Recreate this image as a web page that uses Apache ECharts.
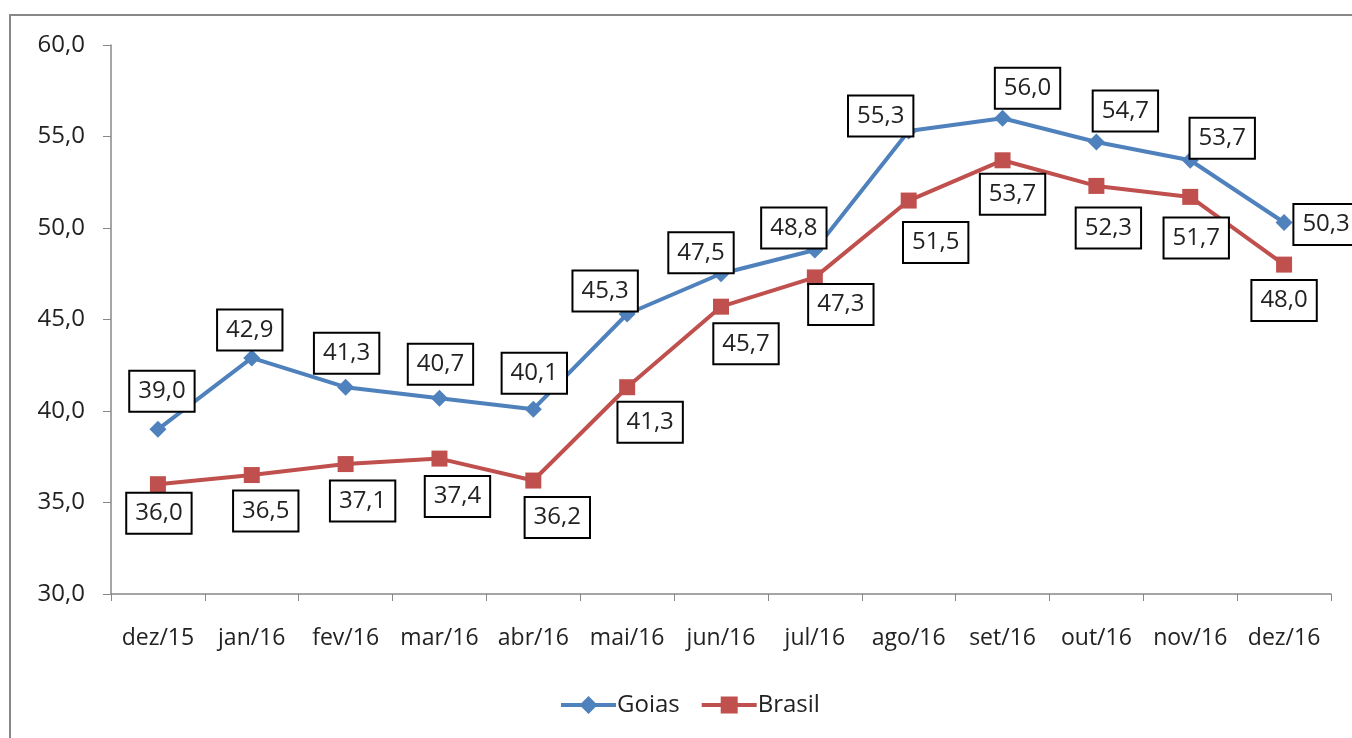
<!DOCTYPE html>
<html>
<head>
<meta charset="utf-8">
<script src="https://cdn.jsdelivr.net/npm/echarts@6/dist/echarts.min.js"></script>
<style>
html,body{margin:0;padding:0;background:#fff;overflow:hidden;}
#frame{position:absolute;left:9px;top:14px;width:1400px;height:800px;border:2px solid #888;box-sizing:border-box;}
#c{position:absolute;left:0;top:0;width:1352px;height:738px;}
</style>
</head>
<body>
<div id="frame"></div>
<div id="c"></div>
<script>
const categories = ['dez/15','jan/16','fev/16','mar/16','abr/16','mai/16','jun/16','jul/16','ago/16','set/16','out/16','nov/16','dez/16'];
const goias = [39.0,42.9,41.3,40.7,40.1,45.3,47.5,48.8,55.3,56.0,54.7,53.7,50.3];
const brasil = [36.0,36.5,37.1,37.4,36.2,41.3,45.7,47.3,51.5,53.7,52.3,51.7,48.0];
const yTicks = {min:30, max:60, interval:5};

// label placement (layout only)
const goiasLabelOffsets = [[4,-38],[-2,-28],[1,-34],[1,-34],[1,-36],[-22,-23],[-20,-21],[-21,-22],[-28,-15],[25,-30],[29,-31],[32,-22],[42,2]];
const brasilLabelOffsets = [[1,29],[14,36],[17,37],[18,38],[24,37],[23,35],[25,37],[26,27],[27,42],[10,34],[12,42],[6,41],[0,36]];

const FONT = '"Open Sans", sans-serif';
const fmt = v => v.toFixed(1).replace('.', ',');

// legend icons: thick line with marker (55 x 18 box)
const ICON_DIAMOND = 'path://M0,7 L20.5,7 L27.5,0 L34.5,7 L55,7 L55,11 L34.5,11 L27.5,18 L20.5,11 L0,11 Z';
const ICON_SQUARE = 'path://M0,7 L19,7 L19,0.5 L36,0.5 L36,7 L55,7 L55,11 L36,11 L36,17.5 L19,17.5 L19,11 L0,11 Z M0,0 L0,0.01 M55,18 L55,18.01';

function build(values, offsets){
  return values.map((v,i)=>({value:v, label:{offset:offsets[i]}}));
}
const labelStyle = {
  show:true, position:'inside', formatter:p=>fmt(p.value),
  fontFamily:FONT, fontSize:24, lineHeight:26, color:'#222',
  backgroundColor:'#fff', borderColor:'#000', borderWidth:2,
  padding:[7,8,6,8]
};

const chart = echarts.init(document.getElementById('c'), null, {renderer:'canvas'});
chart.setOption({
  animation:false,
  backgroundColor:'transparent',
  grid:{left:111, right:21, top:45, bottom:144, containLabel:false},
  legend:{
    bottom:16, left:556, itemGap:22, itemWidth:55, itemHeight:18,
    textStyle:{fontFamily:FONT, fontSize:24, color:'#222', padding:[0,0,0,-4]},
    data:[{name:'Goias', icon:ICON_DIAMOND}, {name:'Brasil', icon:ICON_SQUARE}]
  },
  xAxis:{
    type:'category', data:categories, boundaryGap:true,
    axisLine:{lineStyle:{color:'#888', width:1.5}},
    axisTick:{show:true, length:7, lineStyle:{color:'#888'}},
    axisLabel:{interval:0, fontFamily:FONT, fontSize:23, color:'#222', margin:33}
  },
  yAxis:{
    type:'value', min:yTicks.min, max:yTicks.max, interval:yTicks.interval,
    axisLine:{show:true, lineStyle:{color:'#888', width:1.5}},
    axisTick:{show:true, length:8, lineStyle:{color:'#888'}},
    splitLine:{show:false},
    axisLabel:{fontFamily:FONT, fontSize:24, color:'#222', margin:26, formatter:v=>fmt(v)}
  },
  series:[
    {
      name:'Goias', type:'line', data:build(goias, goiasLabelOffsets),
      symbol:'diamond', symbolSize:17, z:3,
      lineStyle:{color:'#4F81BD', width:4},
      itemStyle:{color:'#4F81BD'},
      label:labelStyle
    },
    {
      name:'Brasil', type:'line', data:build(brasil, brasilLabelOffsets),
      symbol:'rect', symbolSize:16, z:2,
      lineStyle:{color:'#C0504D', width:4},
      itemStyle:{color:'#C0504D'},
      label:labelStyle
    }
  ]
});
</script>
</body>
</html>
